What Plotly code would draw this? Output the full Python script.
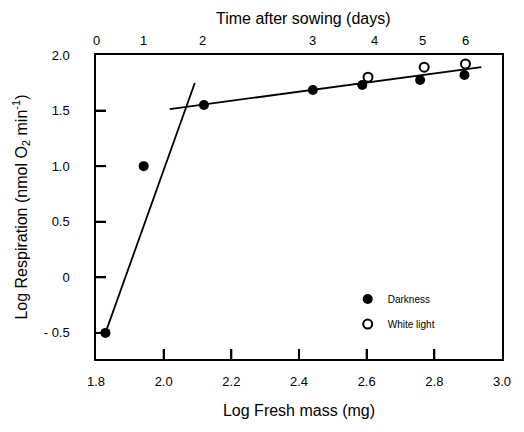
import plotly.graph_objects as go

# Data (log fresh mass mg, log respiration)
dark_x = [1.828, 1.941, 2.119, 2.441, 2.587, 2.758, 2.889]
dark_y = [-0.50, 1.00, 1.55, 1.685, 1.73, 1.775, 1.82]
light_x = [2.604, 2.770, 2.892]
light_y = [1.80, 1.89, 1.92]

# Fitted lines (endpoints)
fit1_x = [1.828, 2.092]
fit1_y = [-0.50, 1.748]
fit2_x = [2.018, 2.939]
fit2_y = [1.514, 1.890]

# Axis ticks
x_ticks = [1.8, 2.0, 2.2, 2.4, 2.6, 2.8, 3.0]
x_ticktext = ["1.8", "2.0", "2.2", "2.4", "2.6", "2.8", "3.0"]
y_ticks = [-0.5, 0, 0.5, 1.0, 1.5, 2.0]
y_ticktext = ["- 0.5", "0", "0.5", "1.0", "1.5", "2.0"]
# Top axis: time after sowing (days), placed on the log fresh mass scale
day_pos = [1.80, 1.941, 2.116, 2.441, 2.622, 2.764, 2.892]
day_labels = ["0", "1", "2", "3", "4", "5", "6"]

FONT = "Liberation Sans, Arial, sans-serif"
NB = "\u00a0"
W, H = 516, 424
M = dict(l=88, r=22, t=47, b=73)
TICKLEN = 10

fig = go.Figure()
fig.add_trace(go.Scatter(x=fit1_x, y=fit1_y, mode="lines",
                         line=dict(color="black", width=1.8), showlegend=False, hoverinfo="skip"))
fig.add_trace(go.Scatter(x=fit2_x, y=fit2_y, mode="lines",
                         line=dict(color="black", width=1.8), showlegend=False, hoverinfo="skip"))
fig.add_trace(go.Scatter(x=dark_x, y=dark_y, mode="markers", name="Darkness", legendgroup="a",
                         marker=dict(symbol="circle", size=10, color="black",
                                     line=dict(color="black", width=0))))
fig.add_trace(go.Scatter(x=light_x, y=light_y, mode="markers", name="White light", legendgroup="b",
                         marker=dict(symbol="circle", size=9, color="white",
                                     line=dict(color="black", width=2))))

annotations = [
    dict(x=xv, y=1, xref="x", yref="paper", text=lab, showarrow=False,
         xanchor="center", yanchor="middle", yshift=15, font=dict(size=13, family=FONT))
    for xv, lab in zip(day_pos, day_labels)
]
annotations.append(dict(x=0.51, y=1, xref="paper", yref="paper", text="Time after sowing (days)",
                        showarrow=False, xanchor="center", yanchor="middle", yshift=37,
                        font=dict(size=16, family=FONT)))

# inward tick marks built from the interior tick values
plot_w = W - M["l"] - M["r"]
plot_h = H - M["t"] - M["b"]
shapes = [
    dict(type="line", xref="x", yref="paper", x0=v, x1=v, y0=0, y1=TICKLEN / plot_h,
         line=dict(color="black", width=2), layer="above")
    for v in x_ticks[1:-1]
] + [
    dict(type="line", xref="paper", yref="y", x0=0, x1=TICKLEN / plot_w, y0=v, y1=v,
         line=dict(color="black", width=2), layer="above")
    for v in y_ticks[:-1]
]

fig.update_layout(
    width=W, height=H,
    margin=M,
    plot_bgcolor="white",
    font=dict(family=FONT, color="black", size=13),
    showlegend=True,
    legend=dict(x=0.62, y=0.245, xanchor="left", yanchor="top",
                font=dict(size=10, family=FONT), bgcolor="rgba(0,0,0,0)",
                traceorder="grouped", tracegroupgap=6),
    annotations=annotations,
    shapes=shapes,
    xaxis=dict(range=[1.8, 3.0], tickvals=x_ticks, ticktext=x_ticktext,
               ticks="inside", ticklen=TICKLEN, tickwidth=2, tickcolor="black",
               showline=True, linecolor="black", linewidth=2, mirror=True,
               ticklabelstandoff=9,
               title=dict(text="Log Fresh mass (mg)", font=dict(size=16), standoff=17)),
    yaxis=dict(range=[-0.735, 2.0], tickvals=y_ticks,
               ticktext=[t + NB * 6 for t in y_ticktext],
               ticks="inside", ticklen=TICKLEN, tickwidth=2, tickcolor="black",
               showline=True, linecolor="black", linewidth=2, mirror=True,
               title=dict(text="Log Respiration (nmol O<sub>2</sub> min<sup>-1</sup>)",
                          font=dict(size=16), standoff=12)),
)

fig.write_html("out.html")
